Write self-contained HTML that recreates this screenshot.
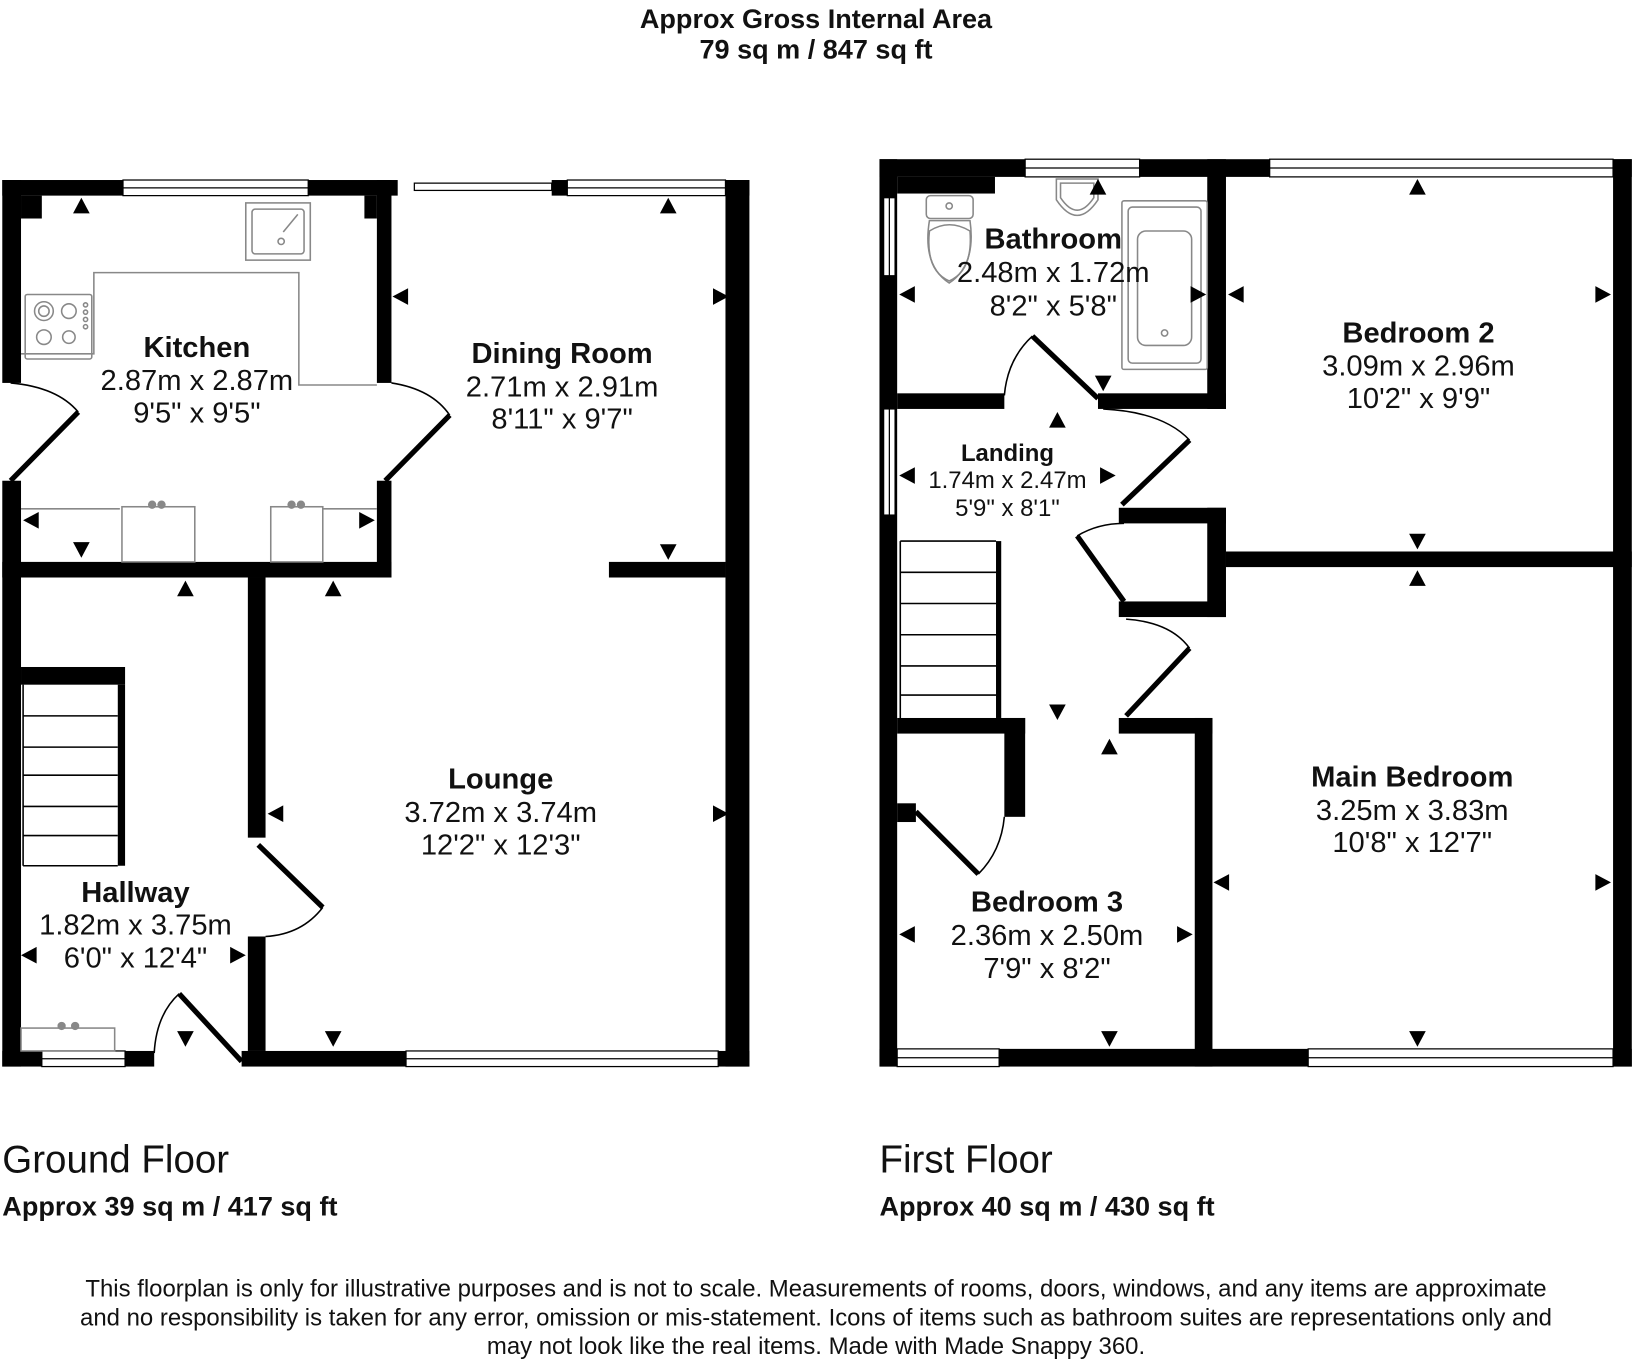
<!DOCTYPE html>
<html><head><meta charset="utf-8"><style>
html,body{margin:0;padding:0;background:#fff;}
svg{display:block;}
text{font-family:"Liberation Sans",Arial,sans-serif;fill:#111;}
.b{font-weight:bold;}
</style></head><body>
<svg width="1632" height="1360" viewBox="0 0 1568 1307" xmlns="http://www.w3.org/2000/svg">
<defs>
<path id="au" d="M-8,7 L8,7 L0,-8 Z" fill="#000"/>
<path id="ad" d="M-8,-7 L8,-7 L0,8 Z" fill="#000"/>
<path id="al" d="M7,-8 L7,8 L-8,0 Z" fill="#000"/>
<path id="ar" d="M-7,-8 L-7,8 L8,0 Z" fill="#000"/>
</defs>
<rect width="1568" height="1307" fill="#fff"/>

<text x="784" y="27" text-anchor="middle" class="b" font-size="26">Approx Gross Internal Area</text>
<text x="784" y="56" text-anchor="middle" class="b" font-size="26">79 sq m / 847 sq ft</text>

<!-- ========== GROUND FLOOR ========== -->
<g fill="#000">
<rect x="2" y="173" width="380" height="15"/>
<rect x="20" y="188" width="20" height="22"/>
<rect x="350" y="188" width="12" height="22"/>
<rect x="2" y="173" width="18" height="195"/>
<rect x="2" y="462" width="18" height="563"/>
<rect x="362" y="173" width="14" height="195"/>
<rect x="362" y="462" width="14" height="93"/>
<rect x="2" y="540" width="374" height="15"/>
<rect x="530" y="173" width="190" height="15"/>
<rect x="697" y="173" width="23" height="852"/>
<rect x="585" y="540" width="112" height="15"/>
<rect x="238" y="555" width="17" height="250"/>
<rect x="238" y="900" width="17" height="110"/>
<rect x="2" y="1010" width="146" height="15"/>
<rect x="232" y="1010" width="488" height="15"/>
<rect x="20" y="641" width="100" height="17"/>
<rect x="113" y="658" width="7" height="174"/>
</g>
<g fill="#fff" stroke="#000" stroke-width="1.2">
<rect x="118" y="173" width="178" height="15"/><line x1="118" y1="180.5" x2="296" y2="180.5"/>
<rect x="545" y="173" width="152" height="15"/><line x1="545" y1="180.5" x2="697" y2="180.5"/>
<rect x="398" y="176" width="132" height="7"/>
<rect x="40" y="1010" width="80" height="15"/><line x1="40" y1="1017.5" x2="120" y2="1017.5"/>
<rect x="390" y="1010" width="300" height="15"/><line x1="390" y1="1017.5" x2="690" y2="1017.5"/>
</g>
<g stroke="#000" stroke-width="1.5" fill="none">
<line x1="22" y1="658" x2="22" y2="832"/>
<line x1="22" y1="688" x2="113" y2="688"/><line x1="22" y1="718" x2="113" y2="718"/>
<line x1="22" y1="745" x2="113" y2="745"/><line x1="22" y1="775" x2="113" y2="775"/>
<line x1="22" y1="803" x2="113" y2="803"/><line x1="22" y1="832" x2="113" y2="832"/>
</g>
<g stroke="#000" fill="none">
<line x1="75" y1="396" x2="10" y2="462" stroke-width="5"/>
<path d="M10,368 Q55,372 75,396" stroke-width="1.5"/>
<line x1="370" y1="462" x2="432" y2="399" stroke-width="5"/>
<path d="M376,368 Q415,374 432,399" stroke-width="1.5"/>
<line x1="248" y1="812" x2="310" y2="872" stroke-width="5"/>
<path d="M310,872 Q290,898 255,900" stroke-width="1.5"/>
<line x1="232" y1="1020" x2="172" y2="955" stroke-width="5"/>
<path d="M172,955 Q150,975 148,1012" stroke-width="1.5"/>
</g>
<g stroke="#888" stroke-width="1.5" fill="none">
<polyline points="20,340 90,340 90,262 287,262 287,370 362,370"/>
<rect x="236" y="195" width="62" height="55"/>
<rect x="242" y="201" width="50" height="43" rx="3"/>
<circle cx="270" cy="232" r="3"/><line x1="272" y1="223" x2="286" y2="206"/>
<rect x="24" y="283" width="64" height="62" rx="2"/>
<circle cx="42" cy="299" r="9"/><circle cx="42" cy="299" r="5"/>
<circle cx="66" cy="299" r="7"/><circle cx="42" cy="324" r="7"/><circle cx="66" cy="324" r="6"/>
<circle cx="82" cy="293" r="2"/><circle cx="82" cy="300" r="2"/><circle cx="82" cy="307" r="2"/><circle cx="82" cy="314" r="2"/>
<line x1="20" y1="489" x2="115" y2="489"/>
<rect x="117" y="487" width="70" height="53"/>
<rect x="260" y="487" width="50" height="53"/>
<line x1="310" y1="489" x2="362" y2="489"/>
<rect x="20" y="988" width="90" height="22"/>
</g>
<g fill="#888">
<circle cx="146" cy="485" r="4"/><circle cx="155" cy="485" r="4"/>
<circle cx="280" cy="485" r="4"/><circle cx="289" cy="485" r="4"/>
<circle cx="59" cy="986" r="4"/><circle cx="72" cy="986" r="4"/>
</g>
<use href="#au" x="78" y="198"/><use href="#al" x="385" y="285"/><use href="#au" x="642" y="198"/><use href="#ar" x="692" y="285"/>
<use href="#ad" x="78" y="528"/><use href="#al" x="30" y="500"/><use href="#ar" x="352" y="500"/>
<use href="#au" x="178" y="566"/><use href="#au" x="320" y="566"/><use href="#ad" x="642" y="530"/>
<use href="#al" x="265" y="782"/><use href="#ar" x="692" y="782"/><use href="#ad" x="320" y="998"/>
<use href="#al" x="28" y="918"/><use href="#ar" x="228" y="918"/><use href="#ad" x="178" y="998"/>
<g text-anchor="middle" font-size="28">
<text x="189" y="343" class="b">Kitchen</text><text x="189" y="375">2.87m x 2.87m</text><text x="189" y="406">9'5" x 9'5"</text>
<text x="540" y="349" class="b">Dining Room</text><text x="540" y="381">2.71m x 2.91m</text><text x="540" y="412">8'11" x 9'7"</text>
<text x="481" y="758" class="b">Lounge</text><text x="481" y="790">3.72m x 3.74m</text><text x="481" y="821">12'2" x 12'3"</text>
<text x="130" y="867" class="b">Hallway</text><text x="130" y="898">1.82m x 3.75m</text><text x="130" y="930">6'0" x 12'4"</text>
</g>
<text x="2" y="1127" font-size="37">Ground Floor</text>
<text x="2" y="1168" font-size="26" class="b">Approx 39 sq m / 417 sq ft</text>

<!-- ========== FIRST FLOOR ========== -->
<g fill="#000">
<rect x="845" y="153" width="723" height="17"/>
<rect x="862" y="170" width="94" height="16"/>
<rect x="845" y="153" width="17" height="872"/>
<rect x="862" y="378" width="103" height="15"/>
<rect x="1055" y="378" width="123" height="15"/>
<rect x="1160" y="153" width="18" height="240"/>
<rect x="1160" y="488" width="18" height="105"/>
<rect x="1075" y="488" width="103" height="15"/>
<rect x="1075" y="578" width="103" height="15"/>
<rect x="1178" y="530" width="390" height="15"/>
<rect x="1550" y="153" width="18" height="872"/>
<rect x="1075" y="690" width="90" height="15"/>
<rect x="1148" y="690" width="17" height="335"/>
<rect x="862" y="690" width="123" height="15"/>
<rect x="965" y="690" width="20" height="95"/>
<rect x="862" y="772" width="18" height="18"/>
<rect x="845" y="1008" width="723" height="17"/>
<rect x="957" y="520" width="5" height="170"/>
</g>
<g fill="#fff" stroke="#000" stroke-width="1.2">
<rect x="985" y="153" width="110" height="17"/><line x1="985" y1="161.5" x2="1095" y2="161.5"/>
<rect x="1220" y="153" width="330" height="17"/><line x1="1220" y1="161.5" x2="1550" y2="161.5"/>
<rect x="849" y="190" width="11" height="75"/><line x1="854.5" y1="190" x2="854.5" y2="265"/>
<rect x="849" y="393" width="11" height="102"/><line x1="854.5" y1="393" x2="854.5" y2="495"/>
<rect x="862" y="1008" width="98" height="17"/><line x1="862" y1="1016.5" x2="960" y2="1016.5"/>
<rect x="1257" y="1008" width="293" height="17"/><line x1="1257" y1="1016.5" x2="1550" y2="1016.5"/>
</g>
<g stroke="#000" stroke-width="1.5" fill="none">
<line x1="865" y1="520" x2="957" y2="520"/><line x1="865" y1="520" x2="865" y2="690"/>
<line x1="865" y1="550" x2="957" y2="550"/><line x1="865" y1="580" x2="957" y2="580"/>
<line x1="865" y1="610" x2="957" y2="610"/><line x1="865" y1="640" x2="957" y2="640"/>
<line x1="865" y1="668" x2="957" y2="668"/>
</g>
<g stroke="#000" fill="none">
<line x1="1055" y1="383" x2="992" y2="323" stroke-width="5"/>
<path d="M992,323 Q968,345 965,380" stroke-width="1.5"/>
<line x1="1078" y1="485" x2="1143" y2="423" stroke-width="5"/>
<path d="M1060,393 Q1118,396 1143,423" stroke-width="1.5"/>
<line x1="1080" y1="578" x2="1035" y2="515" stroke-width="5"/>
<path d="M1035,515 Q1055,503 1080,503" stroke-width="1.5"/>
<line x1="1082" y1="688" x2="1143" y2="623" stroke-width="5"/>
<path d="M1082,595 Q1125,598 1143,623" stroke-width="1.5"/>
<line x1="880" y1="780" x2="940" y2="840" stroke-width="5"/>
<path d="M940,840 Q962,818 965,785" stroke-width="1.5"/>
</g>
<g stroke="#888" stroke-width="1.5" fill="none">
<rect x="890" y="188" width="45" height="22" rx="4"/><circle cx="912" cy="198" r="3"/>
<path d="M893,212 L932,212 Q938,255 912,272 Q886,255 893,212 Z"/>
<path d="M893,222 Q912,210 932,222 Q935,260 912,270 Q889,260 893,222 Z"/>
<path d="M1015,172 L1055,172 L1055,192 Q1035,222 1015,192 Z"/>
<path d="M1019,176 L1051,176 L1051,190 Q1035,214 1019,190 Z"/>
<rect x="1078" y="193" width="82" height="162" rx="2"/>
<rect x="1084" y="199" width="70" height="150" rx="4"/>
<rect x="1093" y="222" width="52" height="110" rx="8"/>
<circle cx="1119" cy="320" r="3"/>
</g>
<use href="#au" x="1055" y="180"/><use href="#al" x="872" y="283"/><use href="#ar" x="1151" y="283"/><use href="#al" x="1188" y="283"/>
<use href="#au" x="1362" y="180"/><use href="#ar" x="1540" y="283"/><use href="#ad" x="1060" y="368"/><use href="#au" x="1016" y="404"/>
<use href="#al" x="872" y="457"/><use href="#ar" x="1064" y="457"/><use href="#ad" x="1362" y="520"/><use href="#au" x="1362" y="556"/>
<use href="#ad" x="1016" y="684"/><use href="#au" x="1066" y="718"/><use href="#al" x="1174" y="848"/><use href="#ar" x="1540" y="848"/>
<use href="#al" x="872" y="898"/><use href="#ar" x="1138" y="898"/><use href="#ad" x="1066" y="998"/><use href="#ad" x="1362" y="998"/>
<g text-anchor="middle" font-size="28">
<text x="1012" y="239" class="b">Bathroom</text><text x="1012" y="271">2.48m x 1.72m</text><text x="1012" y="303">8'2" x 5'8"</text>
<text x="1363" y="329" class="b">Bedroom 2</text><text x="1363" y="361">3.09m x 2.96m</text><text x="1363" y="392">10'2" x 9'9"</text>
<text x="1357" y="756" class="b">Main Bedroom</text><text x="1357" y="788">3.25m x 3.83m</text><text x="1357" y="819">10'8" x 12'7"</text>
<text x="1006" y="876" class="b">Bedroom 3</text><text x="1006" y="908">2.36m x 2.50m</text><text x="1006" y="940">7'9" x 8'2"</text>
</g>
<g text-anchor="middle" font-size="23">
<text x="968" y="443" class="b">Landing</text>
<text x="968" y="469">1.74m x 2.47m</text>
<text x="968" y="496">5'9" x 8'1"</text>
</g>
<text x="845" y="1127" font-size="37">First Floor</text>
<text x="845" y="1168" font-size="26" class="b">Approx 40 sq m / 430 sq ft</text>

<g text-anchor="middle" font-size="23">
<text x="784" y="1246">This floorplan is only for illustrative purposes and is not to scale. Measurements of rooms, doors, windows, and any items are approximate</text>
<text x="784" y="1274">and no responsibility is taken for any error, omission or mis-statement. Icons of items such as bathroom suites are representations only and</text>
<text x="784" y="1301">may not look like the real items. Made with Made Snappy 360.</text>
</g>
</svg>
</body></html>
